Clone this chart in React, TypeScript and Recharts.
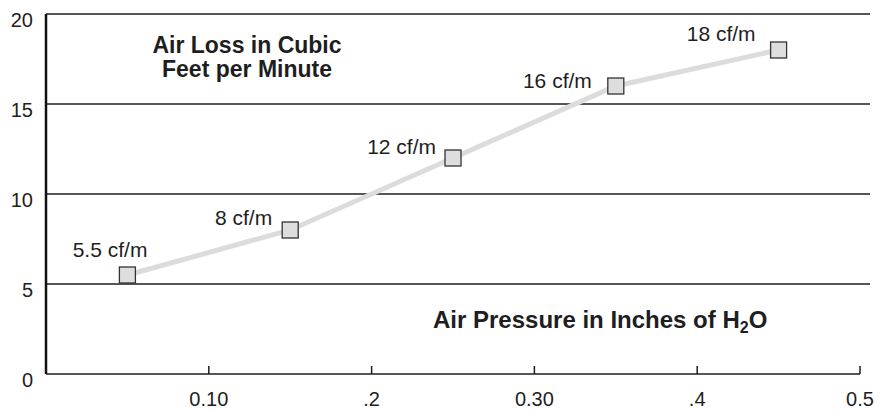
import { LineChart, Line, XAxis, YAxis, ReferenceLine, LabelList } from 'recharts';

const pressure = [0.05, 0.15, 0.25, 0.35, 0.45];
const airLoss = [5.5, 8, 12, 16, 18];
const pointLabels = ['5.5 cf/m', '8 cf/m', '12 cf/m', '16 cf/m', '18 cf/m'];
const xTicks = [0.1, 0.2, 0.3, 0.4, 0.5];
const xTickLabels = ['0.10', '.2', '0.30', '.4', '0.5'];
const yTicks = [0, 5, 10, 15, 20];
const gridValues = [5, 10, 15, 20];

// label placement next to each marker (dx, dy from the point, text end anchored)
const labelNudge = [[20, -18], [-18, -5], [-17, -4], [-24, 2], [-23, -9]];

const font = '"Liberation Sans", Arial, Helvetica, sans-serif';
const ink = '#1e1e1e';

const data = pressure.map((p, i) => ({ p, loss: airLoss[i], label: pointLabels[i] }));

const XTick = ({ x, y, index }: any) => (
  <g>
    <line x1={x} x2={x} y1={y - 8} y2={y} stroke={ink} strokeWidth={1.5} />
    <text x={x} y={y + 32} textAnchor="middle" fontSize={20} fontFamily={font} fill={ink}>
      {xTickLabels[index]}
    </text>
  </g>
);

const YTick = ({ x, y, payload }: any) => (
  <text x={x} y={y + 13} textAnchor="end" fontSize={20} fontFamily={font} fill={ink}>
    {payload.value}
  </text>
);

const Square = ({ cx, cy, index }: any) => (
  <rect key={index} x={cx - 8} y={cy - 8} width={16} height={16} fill="#dedede" stroke="#333" strokeWidth={1.3} />
);

const PointLabel = ({ x, y, index }: any) => {
  const [dx, dy] = labelNudge[index];
  return (
    <text x={x + dx} y={y + dy} textAnchor="end" fontSize={21} fontFamily={font} fill={ink}>
      {pointLabels[index]}
    </text>
  );
};

export default function App() {
  return (
    <div style={{ position: 'absolute', left: 0, top: 0, width: 879, height: 410, background: '#fff' }}>
      <svg width={879} height={410} style={{ position: 'absolute', left: 0, top: 0, pointerEvents: 'none' }}>
        <g fontFamily={font} fontWeight="bold" fontSize={23} fill={ink} textAnchor="middle">
          <text x={247} y={53}>Air Loss in Cubic</text>
          <text x={247} y={77}>Feet per Minute</text>
        </g>
        <text x={433} y={328} fontFamily={font} fontWeight="bold" fontSize={24} fill={ink}>
          Air Pressure in Inches of H
          <tspan fontSize={16} dy={5}>2</tspan>
          <tspan dy={-5}>O</tspan>
        </text>
      </svg>
      <div style={{ position: 'absolute', left: 0, top: 0 }}>
        <LineChart width={879} height={410} data={data} margin={{ top: 14, right: 9, left: 0, bottom: 0 }}>
          <XAxis
            type="number"
            dataKey="p"
            domain={[0, 0.5]}
            ticks={xTicks}
            padding={{ left: 0, right: 10 }}
            axisLine={false}
            tickLine={false}
            tickSize={0}
            tickMargin={0}
            height={36}
            tick={<XTick />}
          />
          <YAxis
            type="number"
            domain={[0, 20]}
            ticks={yTicks}
            width={46}
            axisLine={{ stroke: '#111', strokeWidth: 2.5 }}
            tickLine={false}
            tickSize={0}
            tickMargin={13}
            tick={<YTick />}
          />
          {gridValues.map(v => (
            <ReferenceLine key={v} y={v} stroke={ink} strokeWidth={1.5} />
          ))}
          <ReferenceLine segment={[{ x: 0, y: 0 }, { x: 0.5, y: 0 }]} stroke={ink} strokeWidth={1.5} />
          <Line
            type="linear"
            dataKey="loss"
            stroke="#dcdcdc"
            strokeWidth={5}
            dot={<Square />}
            activeDot={false}
            isAnimationActive={false}
          >
            <LabelList dataKey="label" content={<PointLabel />} />
          </Line>
        </LineChart>
      </div>
    </div>
  );
}
